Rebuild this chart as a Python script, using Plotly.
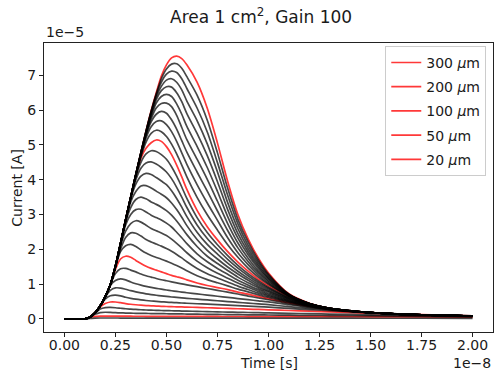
import plotly.graph_objects as go

# Time axis (units of 1e-8 s) shared by every curve
TIME_1E8_S = [0.0, 0.1, 0.125, 0.15, 0.175, 0.2, 0.225, 0.25, 0.275, 0.3, 0.325, 0.35,
              0.375, 0.4, 0.425, 0.45, 0.475, 0.5, 0.525, 0.55, 0.575, 0.6, 0.65, 0.7,
              0.75, 0.8, 0.85, 0.9, 0.95, 1.0, 1.1, 1.2, 1.3, 1.5, 1.75, 2.0]

# Detector thicknesses (micrometres)
THICKNESS_UM = [10, 20, 30, 40, 50, 60, 70, 80, 90, 100,
                110, 120, 130, 140, 150, 160, 170, 180, 190, 200,
                210, 220, 230, 240, 250, 260, 270, 280, 290, 300]

# Thicknesses shown in red (legend order)
HIGHLIGHT_UM = [300, 200, 100, 50, 20]

# Current (units of 1e-5 A), one row per thickness
CURRENT_1E5_A = [
    [0, 0, .01, .02, .025, .025, .025, .025, .024, .024, .024, .024, .023, .023, .023, .023, .023, .022, .022, .022, .022, .022, .022, .021, .021, .021, .021, .02, .02, .02, .02, .019, .019, .018, .017, .016],
    [0, 0, .04, .07, .08, .08, .079, .078, .077, .076, .076, .075, .075, .074, .074, .073, .073, .072, .072, .072, .071, .071, .07, .07, .069, .068, .068, .067, .066, .066, .064, .063, .062, .059, .055, .05],
    [0, 0, .05, .13, .18, .19, .185, .178, .172, .167, .163, .16, .157, .155, .153, .151, .149, .147, .145, .143, .141, .139, .135, .131, .127, .123, .12, .117, .114, .111, .105, .1, .095, .085, .072, .06],
    [0, 0, .05, .16, .28, .325, .33, .32, .305, .29, .28, .27, .262, .255, .25, .245, .241, .237, .233, .229, .225, .222, .215, .208, .201, .195, .189, .183, .177, .171, .16, .149, .138, .117, .093, .07],
    [0, 0, .05, .17, .34, .44, .485, .485, .465, .44, .42, .405, .392, .382, .374, .367, .361, .356, .351, .346, .342, .338, .33, .32, .31, .3, .29, .28, .27, .26, .24, .22, .2, .16, .12, .085],
    [0, 0, .05, .17, .36, .57, .665, .68, .66, .62, .59, .565, .545, .528, .514, .502, .491, .481, .472, .464, .456, .449, .435, .421, .407, .393, .379, .365, .351, .338, .3, .265, .235, .17, .118, .085],
    [0, 0, .05, .17, .37, .62, .82, .89, .885, .85, .81, .775, .745, .72, .698, .678, .66, .644, .629, .615, .602, .59, .567, .544, .521, .498, .475, .452, .43, .408, .35, .3, .26, .175, .118, .085],
    [0, 0, .05, .17, .37, .64, .96, 1.1, 1.15, 1.12, 1.06, 1.01, .97, .935, .905, .878, .853, .83, .808, .788, .769, .751, .717, .683, .65, .617, .584, .551, .519, .488, .405, .33, .27, .178, .116, .085],
    [0, 0, .05, .17, .37, .64, .98, 1.3, 1.44, 1.45, 1.4, 1.35, 1.29, 1.24, 1.2, 1.16, 1.125, 1.095, 1.065, 1.035, 1.005, .978, .925, .872, .82, .768, .715, .655, .6, .55, .44, .35, .275, .18, .116, .085],
    [0, 0, .05, .17, .37, .64, .97, 1.42, 1.72, 1.8, 1.77, 1.68, 1.59, 1.51, 1.45, 1.4, 1.35, 1.3, 1.25, 1.21, 1.17, 1.12, 1.03, .96, .9, .84, .77, .71, .64, .58, .46, .36, .28, .18, .115, .085],
    [0, 0, .05, .17, .37, .64, .98, 1.48, 1.93, 2.1, 2.14, 2.08, 1.98, 1.89, 1.82, 1.765, 1.715, 1.66, 1.597, 1.531, 1.461, 1.38, 1.239, 1.129, 1.037, .949, .856, .776, .69, .617, .478, .367, .282, .18, .115, .085],
    [0, 0, .05, .17, .37, .64, .98, 1.5, 2.0, 2.34, 2.47, 2.46, 2.38, 2.28, 2.21, 2.15, 2.09, 2.02, 1.94, 1.852, 1.752, 1.64, 1.448, 1.298, 1.174, 1.058, .942, .842, .74, .654, .496, .374, .284, .18, .115, .085],
    [0, 0, .05, .17, .37, .64, .98, 1.5, 2.1, 2.52, 2.74, 2.82, 2.78, 2.69, 2.6, 2.53, 2.47, 2.395, 2.29, 2.17, 2.04, 1.9, 1.66, 1.47, 1.31, 1.17, 1.03, .91, .79, .69, .51, .38, .286, .18, .115, .085],
    [0, 0, .05, .17, .37, .64, .98, 1.5, 2.13, 2.7, 3.0, 3.14, 3.15, 3.07, 2.98, 2.91, 2.84, 2.75, 2.64, 2.49, 2.33, 2.16, 1.87, 1.64, 1.45, 1.28, 1.11, .97, .84, .73, .53, .39, .288, .18, .115, .085],
    [0, 0, .05, .17, .37, .64, .98, 1.5, 2.15, 2.78, 3.2, 3.43, 3.5, 3.45, 3.36, 3.29, 3.21, 3.11, 2.98, 2.81, 2.62, 2.42, 2.08, 1.8, 1.59, 1.39, 1.2, 1.04, .89, .77, .55, .4, .29, .18, .115, .085],
    [0, 0, .05, .17, .37, .64, .98, 1.5, 2.16, 2.8, 3.36, 3.66, 3.82, 3.83, 3.76, 3.67, 3.58, 3.48, 3.33, 3.14, 2.92, 2.68, 2.28, 1.97, 1.72, 1.49, 1.29, 1.11, .94, .8, .57, .4, .29, .18, .115, .085],
    [0, 0, .05, .17, .37, .64, .98, 1.5, 2.17, 2.83, 3.45, 3.87, 4.1, 4.18, 4.15, 4.06, 3.96, 3.855, 3.68, 3.46, 3.21, 2.94, 2.49, 2.14, 1.86, 1.6, 1.37, 1.17, .99, .84, .59, .41, .294, .18, .115, .085],
    [0, 0, .05, .17, .37, .64, .98, 1.5, 2.17, 2.85, 3.48, 4.0, 4.33, 4.48, 4.51, 4.45, 4.35, 4.22, 4.03, 3.78, 3.5, 3.2, 2.7, 2.31, 2.0, 1.71, 1.46, 1.24, 1.04, .88, .6, .42, .296, .18, .115, .085],
    [0, 0, .05, .17, .37, .64, .98, 1.52, 2.17, 2.85, 3.5, 4.08, 4.5, 4.74, 4.83, 4.81, 4.72, 4.585, 4.37, 4.1, 3.79, 3.46, 2.91, 2.48, 2.13, 1.82, 1.54, 1.3, 1.09, .91, .62, .42, .298, .18, .115, .085],
    [0, 0, .05, .17, .37, .64, .98, 1.52, 2.17, 2.85, 3.5, 4.12, 4.62, 4.9, 5.06, 5.14, 5.1, 4.95, 4.72, 4.42, 4.08, 3.72, 3.12, 2.65, 2.27, 1.93, 1.63, 1.37, 1.14, .95, .64, .43, .3, .18, .115, .085],
    [0, 0, .05, .17, .37, .64, .98, 1.52, 2.17, 2.85, 3.5, 4.13, 4.66, 5.08, 5.33, 5.42, 5.38, 5.24, 5.02, 4.74, 4.42, 4.08, 3.49, 2.99, 2.55, 2.13, 1.77, 1.46, 1.2, .99, .65, .43, .3, .18, .115, .085],
    [0, 0, .05, .17, .37, .64, .98, 1.52, 2.17, 2.85, 3.5, 4.14, 4.7, 5.2, 5.52, 5.67, 5.69, 5.58, 5.38, 5.1, 4.77, 4.44, 3.86, 3.33, 2.83, 2.33, 1.9, 1.56, 1.26, 1.02, .66, .43, .3, .18, .115, .085],
    [0, 0, .05, .17, .37, .64, .98, 1.52, 2.17, 2.85, 3.5, 4.15, 4.73, 5.28, 5.66, 5.88, 5.96, 5.91, 5.72, 5.45, 5.12, 4.79, 4.22, 3.67, 3.1, 2.54, 2.04, 1.65, 1.32, 1.06, .66, .43, .3, .18, .115, .085],
    [0, 0, .05, .17, .37, .64, .98, 1.52, 2.17, 2.85, 3.5, 4.15, 4.75, 5.3, 5.75, 6.06, 6.19, 6.2, 6.1, 5.85, 5.5, 5.15, 4.59, 4.01, 3.38, 2.74, 2.18, 1.74, 1.38, 1.1, .67, .43, .3, .18, .115, .085],
    [0, 0, .05, .17, .37, .64, .98, 1.52, 2.17, 2.85, 3.5, 4.15, 4.76, 5.33, 5.82, 6.2, 6.39, 6.45, 6.39, 6.18, 5.88, 5.53, 4.96, 4.35, 3.66, 2.94, 2.32, 1.84, 1.45, 1.14, .68, .44, .3, .18, .115, .085],
    [0, 0, .05, .17, .37, .64, .98, 1.52, 2.17, 2.85, 3.5, 4.15, 4.77, 5.36, 5.88, 6.3, 6.56, 6.67, 6.66, 6.5, 6.24, 5.9, 5.33, 4.69, 3.94, 3.14, 2.45, 1.93, 1.51, 1.17, .69, .44, .3, .18, .115, .085],
    [0, 0, .05, .17, .37, .64, .98, 1.52, 2.17, 2.85, 3.5, 4.15, 4.78, 5.38, 5.92, 6.38, 6.68, 6.86, 6.9, 6.8, 6.58, 6.26, 5.7, 5.03, 4.22, 3.34, 2.59, 2.02, 1.57, 1.21, .7, .44, .3, .18, .115, .085],
    [0, 0, .05, .17, .37, .64, .98, 1.52, 2.17, 2.85, 3.5, 4.15, 4.78, 5.39, 5.95, 6.44, 6.8, 7.03, 7.12, 7.08, 6.9, 6.62, 6.06, 5.37, 4.49, 3.55, 2.73, 2.11, 1.63, 1.25, .7, .44, .3, .18, .115, .085],
    [0, 0, .05, .17, .37, .64, .98, 1.52, 2.17, 2.85, 3.5, 4.15, 4.78, 5.4, 5.97, 6.47, 6.9, 7.18, 7.32, 7.33, 7.2, 6.96, 6.43, 5.71, 4.77, 3.75, 2.86, 2.21, 1.69, 1.28, .71, .44, .3, .18, .115, .085],
    [0, 0, .05, .17, .37, .64, .98, 1.52, 2.17, 2.85, 3.5, 4.15, 4.78, 5.4, 5.98, 6.5, 6.98, 7.3, 7.5, 7.55, 7.48, 7.3, 6.8, 6.05, 5.05, 3.95, 3.0, 2.3, 1.75, 1.32, .72, .45, .3, .18, .115, .085],
]

X_TICKS = [0.0, 0.25, 0.5, 0.75, 1.0, 1.25, 1.5, 1.75, 2.0]
Y_TICKS = [0, 1, 2, 3, 4, 5, 6, 7]

FONT = "DejaVu Sans"
RED = "rgba(255,0,0,0.78)"
BLACK = "rgba(0,0,0,0.72)"

fig = go.Figure()

# red (highlighted) curves first, in legend order
for d in HIGHLIGHT_UM:
    i = THICKNESS_UM.index(d)
    fig.add_trace(go.Scatter(
        x=TIME_1E8_S, y=CURRENT_1E5_A[i], mode="lines",
        line=dict(color=RED, width=1.7, shape="spline", smoothing=0.8),
        name=f"{d} <i>μ</i>m", legendgroup=f"g{d}", showlegend=True,
        hoverinfo="skip"))

# black curves on top
for d, row in zip(THICKNESS_UM, CURRENT_1E5_A):
    if d in HIGHLIGHT_UM:
        continue
    fig.add_trace(go.Scatter(
        x=TIME_1E8_S, y=row, mode="lines",
        line=dict(color=BLACK, width=1.7, shape="spline", smoothing=0.8),
        showlegend=False, hoverinfo="skip"))

axis_common = dict(showline=True, linecolor="#222", linewidth=1, mirror=True,
                   ticks="outside", ticklen=4, tickcolor="#222", showgrid=False,
                   zeroline=False, automargin=False,
                   tickfont=dict(family=FONT, size=14, color="#1a1a1a"))

fig.update_xaxes(range=[-0.1, 2.1], tickvals=X_TICKS,
                 ticktext=[f"{v:.2f}" for v in X_TICKS], ticklabelstandoff=-4,
                 **axis_common)
fig.update_yaxes(range=[-0.3775, 7.9275], tickvals=Y_TICKS,
                 ticktext=[str(v) for v in Y_TICKS], **axis_common)

fig.update_layout(
    width=494, height=370,
    margin=dict(l=44, r=1, t=43, b=38, autoexpand=False),
    paper_bgcolor="white", plot_bgcolor="white",
    font=dict(family=FONT, size=14, color="#1a1a1a"),
    title=dict(text="Area 1 cm<sup>2</sup>, Gain 100", x=0.4835, xref="paper",
               xanchor="center",
               y=1 - 17 / 370, yref="container", yanchor="middle",
               font=dict(family=FONT, size=17, color="#1a1a1a")),
    legend=dict(x=0.985, y=0.99, xanchor="right", yanchor="top",
                bgcolor="rgba(255,255,255,0.85)", bordercolor="#cccccc", borderwidth=1,
                font=dict(family=FONT, size=14, color="#1a1a1a"),
                tracegroupgap=3, itemwidth=30),
    annotations=[
        dict(text="1e\u22125", x=0, y=1, xref="paper", yref="paper", xanchor="left",
             yanchor="bottom", yshift=1, showarrow=False, font=dict(family=FONT, size=14)),
        dict(text="1e\u22128", x=1, y=-0.106, xref="paper", yref="paper", xanchor="right",
             yanchor="middle", showarrow=False, font=dict(family=FONT, size=14)),
        dict(text="Time [s]", x=0.5, y=-0.106, xref="paper", yref="paper", xanchor="center",
             yanchor="middle", showarrow=False, font=dict(family=FONT, size=14)),
        dict(text="Current [A]", x=-0.062, y=0.5, xref="paper", yref="paper",
             xanchor="center", yanchor="middle", textangle=-90, showarrow=False,
             font=dict(family=FONT, size=14)),
    ],
)

fig.write_html("out.html", config={"displayModeBar": False},
               post_script="document.body.style.margin='0';document.body.style.padding='0';")
